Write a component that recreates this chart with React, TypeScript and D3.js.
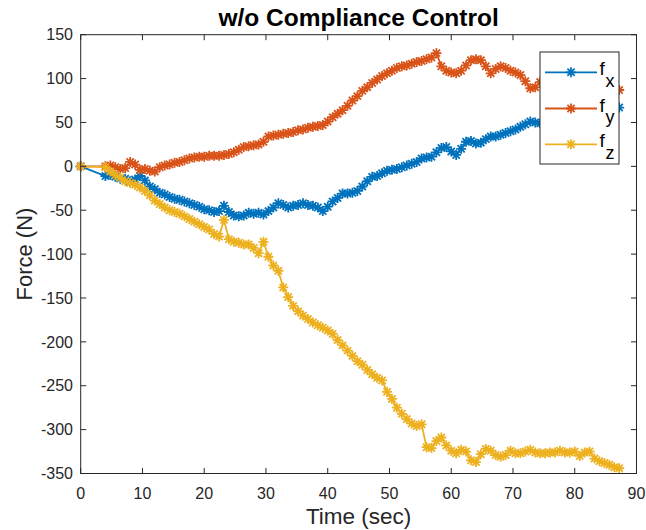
import React from "react";
import * as d3 from "d3";

// Sample times (sec)
const time = [
  0, 4.0, 4.8, 5.6, 6.4, 7.2, 8.0, 8.8, 9.6, 10.4, 11.2, 12.0, 12.8, 13.6, 14.4, 15.2, 16.0, 16.8, 17.6, 18.4,
  19.2, 20.0, 20.8, 21.6, 22.4, 23.2, 24.0, 24.8, 25.6, 26.4, 27.2, 28.0, 28.8, 29.6, 30.4, 31.2, 32.0, 32.8,
  33.6, 34.4, 35.2, 36.0, 36.8, 37.6, 38.4, 39.2, 40.0, 40.8, 41.6, 42.4, 43.2, 44.0, 44.8, 45.6, 46.4, 47.2,
  48.0, 48.8, 49.6, 50.4, 51.2, 52.0, 52.8, 53.6, 54.4, 55.2, 56.0, 56.8, 57.6, 58.4, 59.2, 60.0, 60.8, 61.6,
  62.4, 63.2, 64.0, 64.8, 65.6, 66.4, 67.2, 68.0, 68.8, 69.6, 70.4, 71.2, 72.0, 72.8, 73.6, 74.4, 75.2, 76.0,
  76.8, 77.6, 78.4, 79.2, 80.0, 80.8, 81.6, 82.4, 83.2, 84.0, 84.8, 85.6, 86.4, 87.2,
];

// Force components (N)
const fx = [
  0, -11, -10, -12, -14, -14, -17, -15, -11, -16, -23, -26, -30, -32, -35, -37, -38, -40, -42, -44,
  -46, -49, -50, -52, -51, -45, -52, -56, -57, -56, -53, -54, -53, -55, -51, -47, -42, -44,
  -47, -45, -44, -42, -44, -45, -47, -51, -46, -40, -36, -31, -31, -30, -28, -23, -17, -12,
  -11, -8, -5, -4, -3, -1, 1, 3, 5, 9, 10, 11, 16, 21, 22, 17, 13, 20,
  28, 29, 26, 27, 31, 34, 34, 36, 38, 40, 42, 45, 48, 51, 50, 49, 51, 53,
  55, 56, 57, 58, 59, 60, 61, 62, 63, 64, 65, 66, 66, 67,
];

const fy = [
  0, 0, 1, -1, -3, -2, 5, 2, -4, -3, -5, -6, -1, 1, 2, 4, 5, 7, 9, 10,
  11, 11, 12, 12, 12, 13, 14, 16, 19, 22, 23, 24, 25, 28, 34, 35, 36, 37,
  38, 39, 41, 42, 44, 45, 46, 47, 51, 56, 60, 64, 69, 75, 80, 86, 90, 95,
  99, 103, 106, 109, 112, 114, 115, 117, 119, 120, 122, 124, 129, 114, 109, 107, 106, 109,
  115, 121, 122, 121, 114, 106, 111, 114, 112, 109, 107, 104, 97, 89, 90, 96, 98, 99,
  100, 99, 98, 97, 96, 95, 94, 93, 92, 91, 90, 89, 88, 87,
];

const fz = [
  0, -1, -6, -10, -13, -17, -19, -21, -24, -28, -33, -39, -43, -47, -50, -52, -54, -57, -60, -63,
  -66, -69, -72, -77, -80, -61, -83, -86, -87, -89, -89, -93, -99, -86, -103, -113, -119, -138,
  -149, -159, -165, -170, -174, -178, -181, -184, -187, -191, -198, -204, -210, -216, -222, -226, -232, -237,
  -241, -244, -257, -265, -275, -282, -288, -293, -296, -294, -320, -321, -313, -309, -318, -324, -327, -323,
  -325, -335, -337, -328, -322, -324, -329, -331, -329, -324, -327, -327, -325, -323, -326, -327, -327, -326,
  -326, -324, -326, -326, -325, -330, -326, -325, -333, -336, -338, -340, -343, -344,
];

const seriesNames = ["x", "y", "z"];
const seriesColors = ["#0072BD", "#D95319", "#EDB120"];
const xTicks = [0, 10, 20, 30, 40, 50, 60, 70, 80, 90];
const yTicks = [150, 100, 50, 0, -50, -100, -150, -200, -250, -300, -350];

const W = 646;
const H = 530;
const left = 80.7;
const right = 636.5;
const top = 34.7;
const bottom = 473.5;
const axisColor = "#262626";
const font = "'Liberation Sans', Arial, Helvetica, sans-serif";

function asteriskPath(r: number) {
  const d = r * 0.72;
  return `M${-r},0L${r},0M0,${-r}L0,${r}M${-d},${-d}L${d},${d}M${-d},${d}L${d},${-d}`;
}

export default function App() {
  const x = d3.scaleLinear().domain([0, 90]).range([left, right]);
  const y = d3.scaleLinear().domain([-350, 150]).range([bottom, top]);
  const series = [fx, fy, fz];
  const line = d3
    .line<number>()
    .x((_, i) => x(time[i]))
    .y((v) => y(v));
  const star = asteriskPath(5);
  const tickLen = 5.5;

  // legend geometry
  const lgX0 = 540;
  const lgX1 = 619;
  const lgY0 = 52;
  const lgY1 = 164;
  const lgRows = [72.3, 108.5, 144.3];

  return (
    <svg
      width={W}
      height={H}
      style={{ position: "absolute", left: 0, top: 0, background: "#fff" }}
      fontFamily={font}
    >
      <rect x={0} y={0} width={W} height={H} fill="#fff" />

      {/* data */}
      {series.map((s, si) => (
        <g key={si}>
          <path d={line(s) || ""} fill="none" stroke={seriesColors[si]} strokeWidth={1.8} />
          {s.map((v, i) => (
            <path
              key={i}
              d={star}
              transform={`translate(${x(time[i])},${y(v)})`}
              fill="none"
              stroke={seriesColors[si]}
              strokeWidth={1.8}
            />
          ))}
        </g>
      ))}

      {/* axes box */}
      <rect
        x={left}
        y={top}
        width={right - left}
        height={bottom - top}
        fill="none"
        stroke={axisColor}
        strokeWidth={1}
      />
      {xTicks.map((t) => (
        <g key={`xt${t}`}>
          <line x1={x(t)} x2={x(t)} y1={bottom} y2={bottom - tickLen} stroke={axisColor} />
          <line x1={x(t)} x2={x(t)} y1={top} y2={top + tickLen} stroke={axisColor} />
          <text x={x(t)} y={499} textAnchor="middle" fontSize={16} fill={axisColor}>
            {t}
          </text>
        </g>
      ))}
      {yTicks.map((t) => (
        <g key={`yt${t}`}>
          <line x1={left} x2={left + tickLen} y1={y(t)} y2={y(t)} stroke={axisColor} />
          <line x1={right} x2={right - tickLen} y1={y(t)} y2={y(t)} stroke={axisColor} />
          <text x={73} y={y(t) + 5.7} textAnchor="end" fontSize={16} fill={axisColor}>
            {t}
          </text>
        </g>
      ))}

      {/* labels */}
      <text
        x={(left + right) / 2}
        y={26}
        textAnchor="middle"
        fontSize={24.5}
        fontWeight="bold"
        fill="#000"
      >
        w/o Compliance Control
      </text>
      <text x={(left + right) / 2} y={524} textAnchor="middle" fontSize={22.5} fill={axisColor}>
        Time (sec)
      </text>
      <text
        transform={`translate(32,${(top + bottom) / 2}) rotate(-90)`}
        textAnchor="middle"
        fontSize={22}
        fill={axisColor}
      >
        Force (N)
      </text>

      {/* legend */}
      <rect
        x={lgX0}
        y={lgY0}
        width={lgX1 - lgX0}
        height={lgY1 - lgY0}
        fill="#fff"
        stroke={axisColor}
        strokeWidth={1}
      />
      {seriesNames.map((n, i) => (
        <g key={n}>
          <line
            x1={545}
            x2={597}
            y1={lgRows[i]}
            y2={lgRows[i]}
            stroke={seriesColors[i]}
            strokeWidth={1.8}
          />
          <path
            d={star}
            transform={`translate(571,${lgRows[i]})`}
            fill="none"
            stroke={seriesColors[i]}
            strokeWidth={1.8}
          />
          <text x={599.5} y={lgRows[i] + 3} fontSize={19} fill="#000">
            f
          </text>
          <text x={605.5} y={lgRows[i] + 14.4} fontSize={18} fill="#000">
            {n}
          </text>
        </g>
      ))}
    </svg>
  );
}
